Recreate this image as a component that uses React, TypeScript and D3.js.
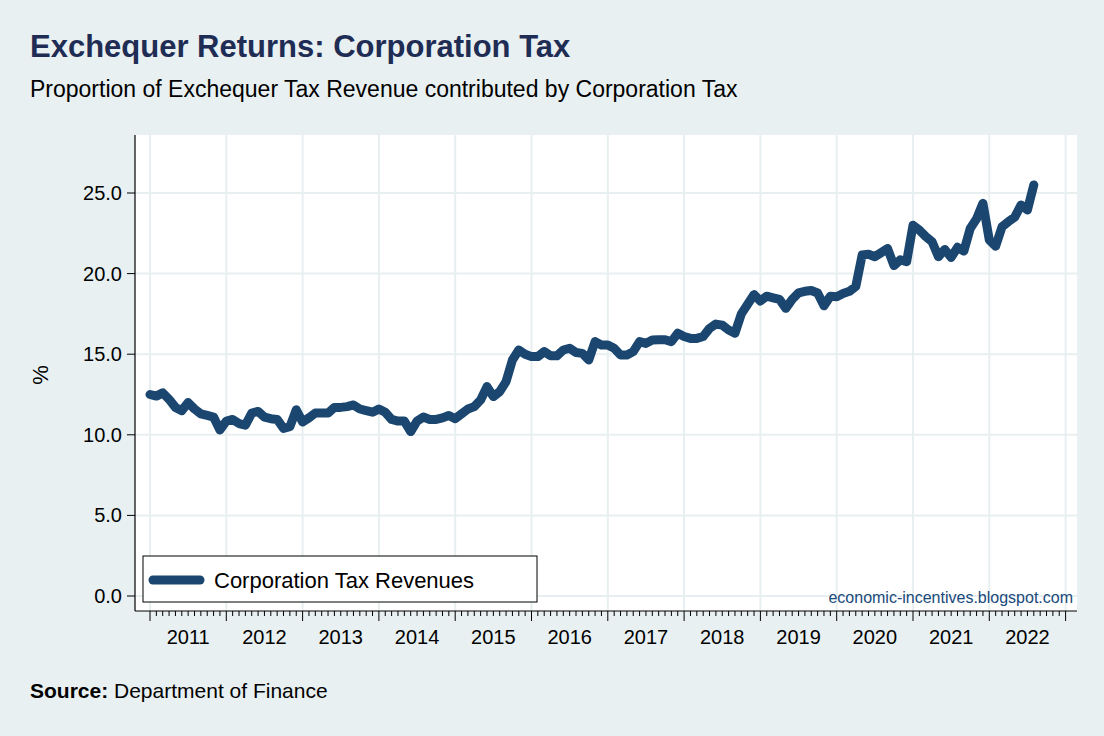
import React, { useEffect, useRef } from 'react';
import * as d3 from 'd3';

// monthly share (%), Jan 2011 .. Aug 2022
const startYear = 2011;
const values: number[] = [
  12.5, 12.4, 12.6, 12.2, 11.7, 11.5, 12.0, 11.6, 11.3, 11.2, 11.1, 10.3,
  10.85, 10.95, 10.7, 10.6, 11.35, 11.45, 11.1, 11.0, 10.95, 10.4, 10.5, 11.55,
  10.8, 11.05, 11.35, 11.35, 11.35, 11.7, 11.7, 11.75, 11.85, 11.6, 11.5, 11.4,
  11.6, 11.4, 10.95, 10.85, 10.85, 10.2, 10.85, 11.1, 10.95, 10.95, 11.05, 11.2,
  11.0, 11.3, 11.6, 11.75, 12.16, 12.99, 12.37, 12.68, 13.3, 14.64, 15.26, 15.0,
  14.85, 14.85, 15.16, 14.9, 14.9, 15.26, 15.37, 15.1, 15.05, 14.64, 15.78, 15.57,
  15.57, 15.37, 14.95, 14.95, 15.16, 15.78, 15.67, 15.88, 15.9, 15.9, 15.78, 16.3,
  16.1, 15.98, 15.98, 16.1, 16.6, 16.87, 16.8, 16.5, 16.3, 17.5, 18.1, 18.7,
  18.3, 18.6, 18.5, 18.4, 17.85, 18.4, 18.8, 18.9, 18.95, 18.8, 18.0, 18.6,
  18.57, 18.77, 18.9, 19.2, 21.15, 21.2, 21.05, 21.3, 21.56, 20.5, 20.85, 20.74,
  23.0, 22.7, 22.3, 21.98, 21.05, 21.5, 21.0, 21.63, 21.4, 22.8, 23.4, 24.36,
  22.08, 21.7, 22.9, 23.22, 23.5, 24.26, 23.95, 25.5,
];
const yTicks = [0, 5, 10, 15, 20, 25];
const years = d3.range(2011, 2023);

const W = 1104, H = 736;
const plot = { left: 135, right: 1077, top: 135, bottom: 611 };
const lineColor = '#1a4670';
const gridColor = '#e8eff1';

export default function App() {
  const ref = useRef<SVGSVGElement | null>(null);

  useEffect(() => {
    if (!ref.current) return;
    const svg = d3.select(ref.current);
    svg.selectAll('*').remove();
    const font = 'Arial, "Liberation Sans", sans-serif';

    // month index scale: 0 = Jan 2011
    const x = d3.scaleLinear().domain([0, 12]).range([150, 150 + 12 * 76.3]);
    const y = d3.scaleLinear().domain([0, 25]).range([596, 193]);

    svg.append('rect').attr('width', W).attr('height', H).attr('fill', '#e8f0f1');
    svg.append('rect')
      .attr('x', plot.left).attr('y', plot.top)
      .attr('width', plot.right - plot.left).attr('height', plot.bottom - plot.top)
      .attr('fill', '#fff');

    // grid
    const yearMonths = years.map((yr) => (yr - startYear) * 12).concat([(2023 - startYear) * 12]);
    svg.append('g').selectAll('line').data(yearMonths).enter().append('line')
      .attr('x1', (d) => x(d / 12)).attr('x2', (d) => x(d / 12))
      .attr('y1', plot.top).attr('y2', plot.bottom)
      .attr('stroke', gridColor).attr('stroke-width', 2);
    svg.append('g').selectAll('line').data(yTicks).enter().append('line')
      .attr('x1', plot.left).attr('x2', plot.right)
      .attr('y1', (d) => y(d)).attr('y2', (d) => y(d))
      .attr('stroke', gridColor).attr('stroke-width', 2);

    // axes
    svg.append('line').attr('x1', plot.left).attr('x2', plot.left)
      .attr('y1', plot.top).attr('y2', plot.bottom).attr('stroke', '#000').attr('stroke-width', 1.2);
    svg.append('line').attr('x1', plot.left).attr('x2', plot.right)
      .attr('y1', plot.bottom).attr('y2', plot.bottom).attr('stroke', '#000').attr('stroke-width', 1.2);

    const yAxis = svg.append('g');
    yTicks.forEach((t) => {
      yAxis.append('line').attr('x1', plot.left - 8).attr('x2', plot.left)
        .attr('y1', y(t)).attr('y2', y(t)).attr('stroke', '#000');
      yAxis.append('text').attr('x', plot.left - 13).attr('y', y(t)).attr('dy', '0.35em')
        .attr('text-anchor', 'end').attr('font-family', font).attr('font-size', 20)
        .text(t.toFixed(1));
    });

    const xAxis = svg.append('g');
    const months = d3.range(0, 12 * 12 + 1).filter((m) => x(m / 12) <= plot.right);
    months.forEach((m) => {
      const major = m % 12 === 0;
      xAxis.append('line').attr('x1', x(m / 12)).attr('x2', x(m / 12))
        .attr('y1', plot.bottom).attr('y2', plot.bottom + (major ? 10 : 5))
        .attr('stroke', '#000');
    });
    years.forEach((yr) => {
      xAxis.append('text').attr('x', x((yr - startYear) + 0.5)).attr('y', plot.bottom + 33)
        .attr('text-anchor', 'middle').attr('font-family', font).attr('font-size', 20)
        .text(yr);
    });

    // line
    const line = d3.line<number>().x((_, i) => x(i / 12)).y((d) => y(d));
    svg.append('path').datum(values).attr('d', line).attr('fill', 'none')
      .attr('stroke', lineColor).attr('stroke-width', 9)
      .attr('stroke-linejoin', 'round').attr('stroke-linecap', 'round');

    // legend
    svg.append('rect').attr('x', 143).attr('y', 556).attr('width', 394).attr('height', 46)
      .attr('fill', '#fff').attr('stroke', '#000').attr('stroke-width', 1);
    svg.append('line').attr('x1', 153).attr('x2', 200).attr('y1', 580).attr('y2', 580)
      .attr('stroke', lineColor).attr('stroke-width', 9).attr('stroke-linecap', 'round');
    svg.append('text').attr('x', 214).attr('y', 580).attr('dy', '0.35em')
      .attr('font-family', font).attr('font-size', 22).text('Corporation Tax Revenues');

    svg.append('text').attr('x', 1073).attr('y', 603).attr('text-anchor', 'end')
      .attr('font-family', font).attr('font-size', 16).attr('fill', '#1a4a7a')
      .text('economic-incentives.blogspot.com');

    // titles
    svg.append('text').attr('x', 30).attr('y', 57).attr('font-family', font)
      .attr('font-size', 31).attr('font-weight', 'bold').attr('fill', '#1f2d55')
      .text('Exchequer Returns: Corporation Tax');
    svg.append('text').attr('x', 30).attr('y', 97).attr('font-family', font)
      .attr('font-size', 23).text('Proportion of Exchequer Tax Revenue contributed by Corporation Tax');
    svg.append('text').attr('transform', 'translate(48,375) rotate(-90)')
      .attr('text-anchor', 'middle').attr('font-family', font).attr('font-size', 22).text('%');
    const src = svg.append('text').attr('x', 30).attr('y', 698).attr('font-family', font).attr('font-size', 21);
    src.append('tspan').attr('font-weight', 'bold').text('Source:');
    src.append('tspan').text(' Department of Finance');
  }, []);

  return (
    <div style={{ position: 'fixed', left: 0, top: 0 }}>
      <svg ref={ref} width={W} height={H} style={{ display: 'block' }} />
    </div>
  );
}
